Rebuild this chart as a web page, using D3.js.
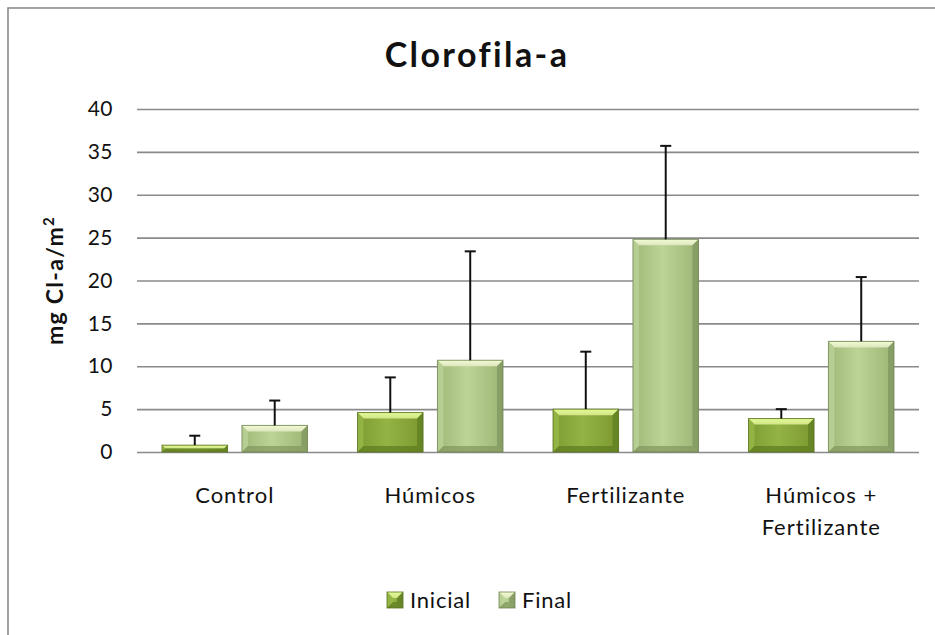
<!DOCTYPE html>
<html>
<head>
<meta charset="utf-8">
<script src="https://cdn.jsdelivr.net/npm/d3@7"></script>
<style>
  html, body { margin: 0; padding: 0; background: #fff; }
  svg { display: block; font-family: Lato, "Open Sans", sans-serif; }
</style>
</head>
<body>
<svg id="chart" width="935" height="635"></svg>
<script>
// Chlorophyll-a per treatment, initial vs final, with +SD error bars
const categories = ["Control", "Húmicos", "Fertilizante", "Húmicos + Fertilizante"];
const seriesNames = ["Inicial", "Final"];
const inicialValues = [0.8, 4.6, 5.0, 3.9];
const inicialErrors = [1.1, 4.1, 6.7, 1.1];
const finalValues = [3.1, 10.7, 24.8, 12.9];
const finalErrors = [2.9, 12.7, 10.9, 7.5];
const yTicks = [0, 5, 10, 15, 20, 25, 30, 35, 40];

const svg = d3.select("#chart");
const W = 935, H = 635;
const margin = { left: 137, right: 16, top: 109, bottom: 183 };
const innerW = W - margin.left - margin.right;
const innerH = H - margin.top - margin.bottom;

// chart frame
svg.append("rect")
  .attr("x", 8).attr("y", 8)
  .attr("width", W + 20).attr("height", H + 20)
  .attr("fill", "#fff").attr("stroke", "#8c8c8c").attr("stroke-width", 1.6);

// gradients for the bevelled bars
const defs = svg.append("defs");
const palettes = {
  Inicial: { body: ["#7e9c32", "#94b344", "#7b9830"], top: "#e4fa94", left: "#a3c452", right: "#5f7d22", bottom: "#5d7a20", stroke: "#55701f" },
  Final:   { body: ["#9fb777", "#bcd495", "#9cb474"], top: "#f3fbd2", left: "#c9dea5", right: "#7f9560", bottom: "#80955d", stroke: "#6f8452" }
};
seriesNames.forEach(s => {
  const p = palettes[s];
  const g = defs.append("linearGradient").attr("id", "body-" + s)
    .attr("x1", 0).attr("x2", 1).attr("y1", 0).attr("y2", 0);
  g.append("stop").attr("offset", "0%").attr("stop-color", p.body[0]);
  g.append("stop").attr("offset", "45%").attr("stop-color", p.body[1]);
  g.append("stop").attr("offset", "100%").attr("stop-color", p.body[2]);
  const tg = defs.append("linearGradient").attr("id", "top-" + s)
    .attr("x1", 0).attr("x2", 0).attr("y1", 0).attr("y2", 1);
  tg.append("stop").attr("offset", "0%").attr("stop-color", p.top);
  tg.append("stop").attr("offset", "100%").attr("stop-color", d3.color(p.top).darker(0.25));
});

const g = svg.append("g").attr("transform", `translate(${margin.left},${margin.top})`);

const x0 = d3.scaleBand().domain(categories).range([0, innerW]).paddingInner(0).paddingOuter(0);
const x1 = d3.scaleBand().domain(seriesNames).range([25, x0.bandwidth() - 25]).paddingInner(0.18);
const y = d3.scaleLinear().domain([0, 40]).range([innerH, 0]);

// y axis with gridlines
const yAxis = g.append("g")
  .call(d3.axisLeft(y).tickValues(yTicks).tickSize(-innerW).tickPadding(24));
yAxis.select(".domain").remove();
yAxis.selectAll(".tick line").attr("stroke", "#8a8a8a").attr("stroke-width", 1.6);
yAxis.selectAll(".tick text").attr("font-size", 21).attr("fill", "#111")
  .attr("font-family", "Lato, sans-serif").attr("letter-spacing", 0.5);

// category labels
const xAxis = g.append("g").attr("transform", `translate(0,${innerH})`)
  .call(d3.axisBottom(x0).tickSize(0).tickFormat(""));
xAxis.select(".domain").remove();
categories.forEach(c => {
  const lines = c.includes(" + ") ? [c.split(" + ")[0] + " +", c.split(" + ")[1]] : [c];
  const t = g.append("text")
    .attr("x", x0(c) + x0.bandwidth() / 2)
    .attr("y", innerH + 51)
    .attr("text-anchor", "middle")
    .attr("font-size", 22).attr("letter-spacing", 1).attr("fill", "#111");
  lines.forEach((ln, i) => {
    t.append("tspan").attr("x", x0(c) + x0.bandwidth() / 2)
      .attr("dy", i === 0 ? 0 : 32).text(ln);
  });
});

// draws a bevelled bar in the given series style
function bevelBar(sel, bx, by, bw, bh, s) {
  const p = palettes[s];
  const b = Math.min(6, bh / 2, bw / 2);
  sel.append("rect").attr("x", bx).attr("y", by).attr("width", bw).attr("height", bh)
    .attr("fill", `url(#body-${s})`);
  // top facet
  sel.append("polygon").attr("points",
    [[bx, by], [bx + bw, by], [bx + bw - b, by + b], [bx + b, by + b]].join(" "))
    .attr("fill", `url(#top-${s})`);
  // left facet
  sel.append("polygon").attr("points",
    [[bx, by], [bx + b, by + b], [bx + b, by + bh - b], [bx, by + bh]].join(" "))
    .attr("fill", p.left).attr("opacity", 0.55);
  // right facet
  sel.append("polygon").attr("points",
    [[bx + bw, by], [bx + bw, by + bh], [bx + bw - b, by + bh - b], [bx + bw - b, by + b]].join(" "))
    .attr("fill", p.right).attr("opacity", 0.75);
  // bottom facet
  sel.append("polygon").attr("points",
    [[bx, by + bh], [bx + b, by + bh - b], [bx + bw - b, by + bh - b], [bx + bw, by + bh]].join(" "))
    .attr("fill", p.bottom).attr("opacity", 0.7);
  sel.append("rect").attr("x", bx).attr("y", by).attr("width", bw).attr("height", bh)
    .attr("fill", "none").attr("stroke", p.stroke).attr("stroke-width", 1).attr("opacity", 0.8);
}

const series = [
  { name: "Inicial", values: inicialValues, errors: inicialErrors },
  { name: "Final", values: finalValues, errors: finalErrors }
];

series.forEach(sr => {
  categories.forEach((c, i) => {
    const bx = x0(c) + x1(sr.name);
    const bw = x1.bandwidth();
    const v = sr.values[i];
    const grp = g.append("g");
    bevelBar(grp, bx, y(v), bw, y(0) - y(v), sr.name);
  });
});

// error bars (plus direction)
series.forEach(sr => {
  categories.forEach((c, i) => {
    const cx = x0(c) + x1(sr.name) + x1.bandwidth() / 2;
    const v = sr.values[i], e = sr.errors[i];
    g.append("line").attr("x1", cx).attr("x2", cx)
      .attr("y1", y(v)).attr("y2", y(v + e))
      .attr("stroke", "#111").attr("stroke-width", 2);
    g.append("line").attr("x1", cx - 5.5).attr("x2", cx + 5.5)
      .attr("y1", y(v + e)).attr("y2", y(v + e))
      .attr("stroke", "#111").attr("stroke-width", 2);
  });
});

// title
svg.append("text").attr("x", 477).attr("y", 67)
  .attr("text-anchor", "middle").attr("font-size", 34).attr("font-weight", "bold")
  .attr("letter-spacing", 2.4).attr("fill", "#111").text("Clorofila-a");

// y-axis title
svg.append("text")
  .attr("transform", `translate(63,${margin.top + innerH / 2}) rotate(-90)`)
  .attr("text-anchor", "middle").attr("font-size", 23).attr("font-weight", "bold")
  .attr("letter-spacing", 1.3).attr("fill", "#111")
  .call(t => {
    t.append("tspan").text("mg Cl-a/m");
    t.append("tspan").attr("dy", -9).attr("font-size", 15).text("2");
  });

// legend
const legend = svg.append("g");
const legendX = [387, 499];
seriesNames.forEach((s, i) => {
  const lg = legend.append("g");
  bevelBar(lg, legendX[i], 592, 16, 16, s);
  lg.append("text").attr("x", legendX[i] + 23).attr("y", 608)
    .attr("font-size", 22).attr("letter-spacing", 0.8).attr("fill", "#111").text(s);
});
</script>
</body>
</html>
